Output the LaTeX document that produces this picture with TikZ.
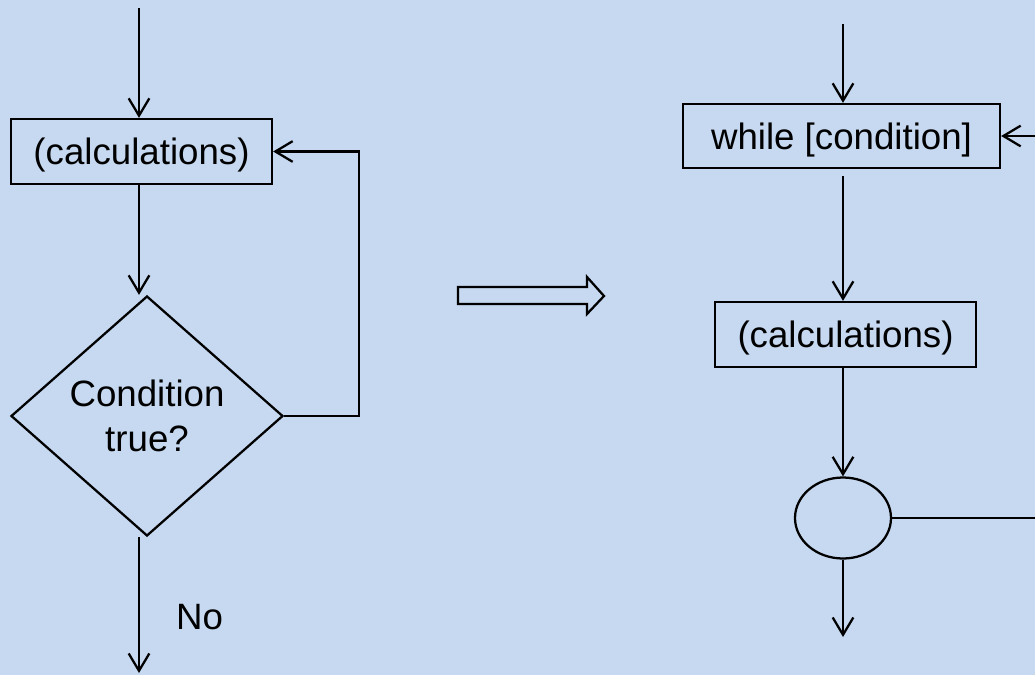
\documentclass[tikz,border=0pt]{standalone}
\usepackage{fontspec}
\setmainfont{Liberation Sans}
\usepackage{tikz}
\usetikzlibrary{arrows.meta,shapes.geometric,positioning}
\definecolor{slideblue}{RGB}{198,217,240}

\begin{document}
\begin{tikzpicture}
              [x=0.75pt,y=-0.75pt,line width=1.7pt,
                every node/.style={font=\fontsize{27.5pt}{33.75pt}\selectfont,inner sep=0pt},
                box/.style={rectangle,draw,text depth=0pt,minimum width=195.75pt,minimum height=48.75pt},
                test/.style={diamond,draw,align=center,minimum width=204pt,minimum height=180pt},
                merge/.style={ellipse,draw,minimum width=72pt,minimum height=60.75pt},
                flow/.style={-{Straight Barb[length=13pt,width=15.5pt]}}]
              \clip (0,0) rectangle (1035,675);
              \fill[slideblue] (0,0) rectangle (1035,675);
              % do ... while
              \coordinate (n0) at (139,8);
              \node[box] (n1) at (141.5,151.5) {(calculations)};
              \node[test] (n2) at (147,416) {Condition\\true?};
              \coordinate (n3) at (139,673);
              \draw[flow] (n0) -- (n0 |- n1.north);
              \draw[flow] (n1.south -| n0) -- (n0 |- n2.north);
              \draw[flow] (n2.east) -- ++(75,0) |- (n1.east);
              \draw[flow] (n2.south -| n0) -- (n3) node[pos=0.59,right=27pt] {No};
              % hollow arrow
              \draw[line join=miter] (458,287) -- (587,287) -- (587,277) -- (604,296)
                -- (587,314) -- (587,304) -- (458,304) -- cycle;
              % while
              \coordinate (m0) at (843,24);
              \node[box,minimum width=237.75pt,minimum height=48pt] (m1) at (841.5,136) {while [condition]};
              \node[box] (m2) at (845.5,334.5) {(calculations)};
              \node[merge] (m3) at (843,518) {};
              \coordinate (m4) at (843,637);
              \draw[flow] (m0) -- (m0 |- m1.north);
              \draw[flow,shorten <=5pt] (m1.south -| m0) -- (m0 |- m2.north);
              \draw[flow] (m2.south -| m0) -- (m3);
              \draw[flow] (m3) -- (m4);
              \draw[flow] (m3.east) -- ++(200,0) |- (m1.east);
            \end{tikzpicture}
\end{document}
